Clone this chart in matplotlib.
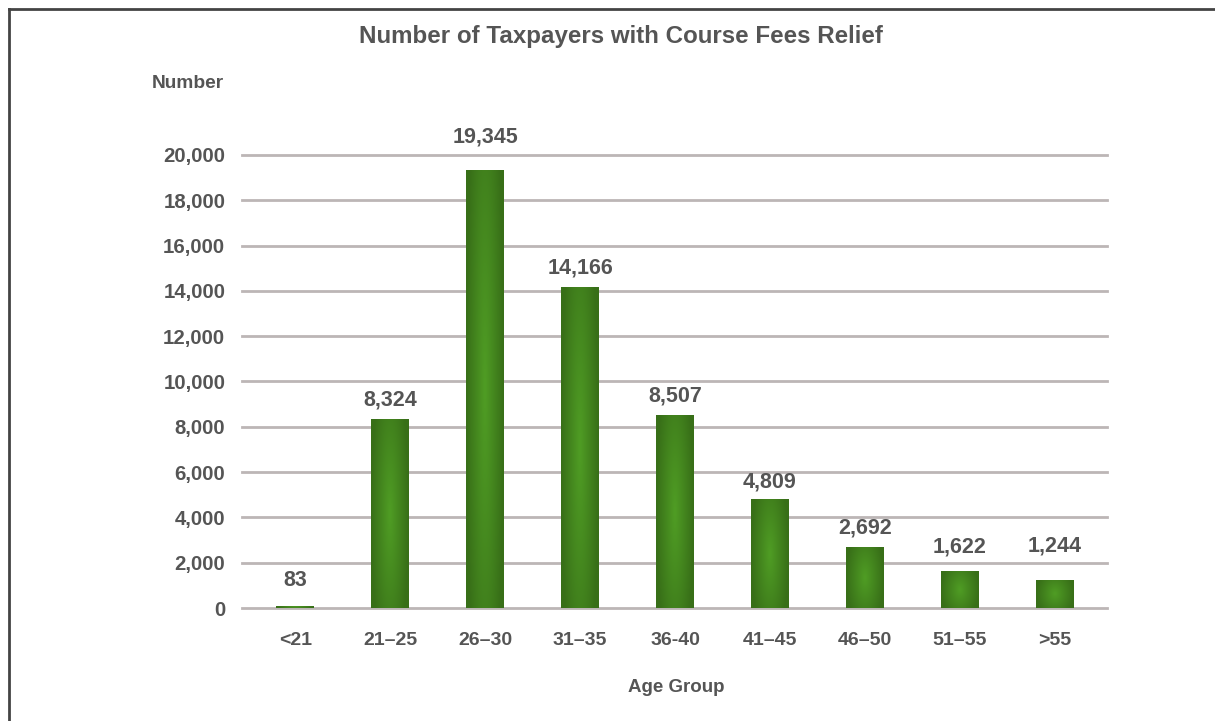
import numpy as np
import matplotlib
matplotlib.use("Agg")
import matplotlib.pyplot as plt
from matplotlib.lines import Line2D

# data
age_groups = ["<21", "21\u201325", "26\u201330", "31\u201335", "36-40", "41\u201345", "46\u201350", "51\u201355", ">55"]
taxpayers = [83, 8324, 19345, 14166, 8507, 4809, 2692, 1622, 1244]
y_ticks = [0, 2000, 4000, 6000, 8000, 10000, 12000, 14000, 16000, 18000, 20000]
# gap between bar top and label centre, in pixels (labels are not evenly placed in the original)
label_gap_px = [26, 19, 33, 19, 19, 17, 19, 24, 34]

plt.rcParams['font.family'] = ['Liberation Sans', 'DejaVu Sans']
txt = '#555555'

fig = plt.figure(figsize=(12.15, 7.21), dpi=100)
ax = fig.add_axes([242 / 1215, 1 - 608 / 721, (1107 - 242) / 1215, (608 - 155) / 721])
ax.set_ylim(0, 20000)
ax.set_xlim(-0.56, 8.55)

x = np.arange(len(age_groups))
bars = ax.bar(x, taxpayers, width=0.4, color='#42861d', zorder=3)

# radial-ish shading inside each bar
gx, gy = np.meshgrid(np.linspace(-1, 1, 60), np.linspace(-1, 1, 200))
shade = np.clip(1 - np.sqrt(gx ** 2 + (gy * 0.6) ** 2), 0, 1)
cmap = matplotlib.colors.LinearSegmentedColormap.from_list('g', ['#386f18', '#4f9c24'])
for b in bars:
    x0, y0 = b.get_x(), b.get_y()
    im = ax.imshow(shade, extent=[x0, x0 + b.get_width(), y0, y0 + b.get_height()],
                   cmap=cmap, aspect='auto', zorder=4, origin='lower')
    im.set_clip_path(b)

for xi, v, gap in zip(x, taxpayers, label_gap_px):
    ax.annotate(f"{v:,}", (xi, v), xytext=(0, gap * 0.72), textcoords='offset points',
                ha='center', va='center', fontsize=15.5, fontweight='bold', color=txt)

ax.set_yticks(y_ticks)
ax.set_yticklabels([f"{t:,}" for t in y_ticks])
ax.set_xticks(x)
ax.set_xticklabels(age_groups)
ax.yaxis.grid(True, color='#bcb6b6', linewidth=2)
for gl in ax.get_ygridlines():
    gl.set_clip_on(False)
ax.set_axisbelow(True)
ax.tick_params(length=0, labelcolor=txt)
ax.tick_params(axis='y', pad=12, labelsize=14.7)
ax.tick_params(axis='x', pad=17, labelsize=14)
for lbl in ax.get_xticklabels() + ax.get_yticklabels():
    lbl.set_fontweight('bold')
for s in ax.spines.values():
    s.set_visible(False)

fig.text(621 / 1215, 1 - 37 / 721, "Number of Taxpayers with Course Fees Relief",
         ha='center', va='center', fontsize=17.4, fontweight='bold', color=txt)
fig.text(188 / 1215, 1 - 83 / 721, "Number", ha='center', va='center',
         fontsize=13.8, fontweight='bold', color=txt)
fig.text(676 / 1215, 1 - 688 / 721, "Age Group", ha='center', va='center',
         fontsize=13.5, fontweight='bold', color=txt)

# frame around the chart (left and top edges)
fig.add_artist(Line2D([8.5 / 1215, 8.5 / 1215], [0, 1 - 8.5 / 721], color='#444444', linewidth=2))
fig.add_artist(Line2D([8.5 / 1215, 1], [1 - 8.5 / 721, 1 - 8.5 / 721], color='#444444', linewidth=2))

fig.savefig("out.png", dpi=100)
